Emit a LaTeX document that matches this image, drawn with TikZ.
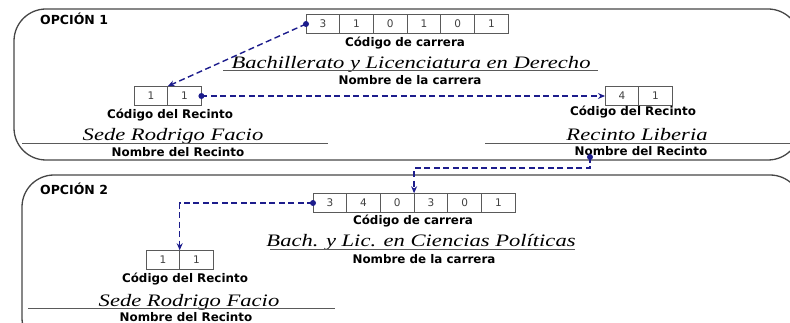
\documentclass[tikz,border=0pt]{standalone}
\usepackage{fontspec}
\setmainfont{Liberation Serif}
\newfontfamily\lblfont{DejaVu Sans}
\usetikzlibrary{arrows.meta}
\definecolor{conn}{RGB}{28,28,140}
\definecolor{frm}{RGB}{70,70,70}
\definecolor{cellc}{RGB}{90,90,90}
\tikzset{
  cell/.style={draw=cellc, line width=0.8pt, minimum width=33.7pt, minimum height=19.5pt,
    inner sep=0pt, outer sep=0pt, anchor=west, font=\lblfont\fontsize{10.5}{12}\selectfont, text=black!75},
  lbl/.style={font=\lblfont\bfseries\fontsize{11.9}{14}\selectfont, inner sep=0pt},
  opt/.style={font=\lblfont\bfseries\fontsize{12.5}{14}\selectfont, inner sep=0pt, anchor=west},
  ital/.style={font=\itshape\fontsize{17.5}{20}\selectfont, inner sep=0pt, anchor=base},
  uline/.style={draw=cellc, line width=0.9pt},
  frame/.style={draw=frm, line width=1.3pt, rounded corners=32pt},
  link/.style={draw=conn, line width=1.4pt, dash pattern=on 6pt off 3.5pt, -{Stealth[length=7pt,width=6pt]}},
  dotc/.style={fill=conn}
}
\begin{document}
\begin{tikzpicture}[x=1pt,y=-1pt]
\useasboundingbox (0,0) rectangle (790,323);
\clip (0,0) rectangle (790,323);
% frames
\draw[frame] (14,9) rectangle (800,160);
\draw[frame] (22,175) rectangle (802,350);
% ---------- OPCION 1
\node[opt] (o1) at (40,19) {OPCIÓN 1};
\node[cell] (ca1) at (306,24) {3};
\node[cell] (ca2) at (ca1.east) {1};
\node[cell] (ca3) at (ca2.east) {0};
\node[cell] (ca4) at (ca3.east) {1};
\node[cell] (ca5) at (ca4.east) {0};
\node[cell] (ca6) at (ca5.east) {1};
\node[lbl] (cc1) at (405,43) {Código de carrera};
\node[ital] (bl) at (411,69) {\scalebox{1.29}[1]{Bachillerato y Licenciatura en Derecho}};
\draw[uline] (223,70.5) -- (598,70.5);
\node[lbl] (nc1) at (410,80) {Nombre de la carrera};
\node[cell] (la1) at (134,96) {1};
\node[cell] (la2) at (la1.east) {1};
\node[lbl] (cr1) at (170,115) {Código del Recinto};
\node[cell] (ra1) at (605,96) {4};
\node[cell] (ra2) at (ra1.east) {1};
\node[lbl] (cr2) at (633,112) {Código del Recinto};
\node[ital] (sr1) at (173,141) {\scalebox{1.29}[1]{Sede Rodrigo Facio}};
\draw[uline] (22,143) -- (328,143);
\node[lbl] (nr1) at (178,152) {Nombre del Recinto};
\node[ital] (rl) at (637,141) {\scalebox{1.29}[1]{Recinto Liberia}};
\draw[uline] (485,143) -- (790,143);
\node[lbl] (nr2) at (641,151) {Nombre del Recinto};
\coordinate (p3) at (590,157);
% ---------- OPCION 2
\node[opt] (o2) at (40,189) {OPCIÓN 2};
\node[cell] (cb1) at (313,203) {3};
\node[cell] (cb2) at (cb1.east) {4};
\node[cell] (cb3) at (cb2.east) {0};
\node[cell] (cb4) at (cb3.east) {3};
\node[cell] (cb5) at (cb4.east) {0};
\node[cell] (cb6) at (cb5.east) {1};
\node[lbl] (cc2) at (413,221) {Código de carrera};
\node[ital] (bp) at (421,247) {\scalebox{1.29}[1]{Bach. y Lic. en Ciencias Políticas}};
\draw[uline] (270,249) -- (575,249);
\node[lbl] (nc2) at (424,259) {Nombre de la carrera};
\node[cell] (ma1) at (146,260) {1};
\node[cell] (ma2) at (ma1.east) {1};
\node[lbl] (cr3) at (185,279) {Código del Recinto};
\node[ital] (sr2) at (189,306.5) {\scalebox{1.29}[1]{Sede Rodrigo Facio}};
\draw[uline] (28,308.5) -- (335,308.5);
\node[lbl] (nr3) at (186,317) {Nombre del Recinto};
% ---------- connectors
\draw[link] (ca1.west) -- (la1.north east);
\draw[link] (la2.east) -- (ra1.west);
\draw[link] (p3) -- ++(0,11) -| (cb4.north west);
\draw[link] (cb1.west) -| (ma1.north east);
\fill[dotc] (ca1.west) circle (3pt);
\fill[dotc] (la2.east) circle (3pt);
\fill[dotc] (p3) circle (3pt);
\fill[dotc] (cb1.west) circle (3pt);
\end{tikzpicture}
\end{document}
